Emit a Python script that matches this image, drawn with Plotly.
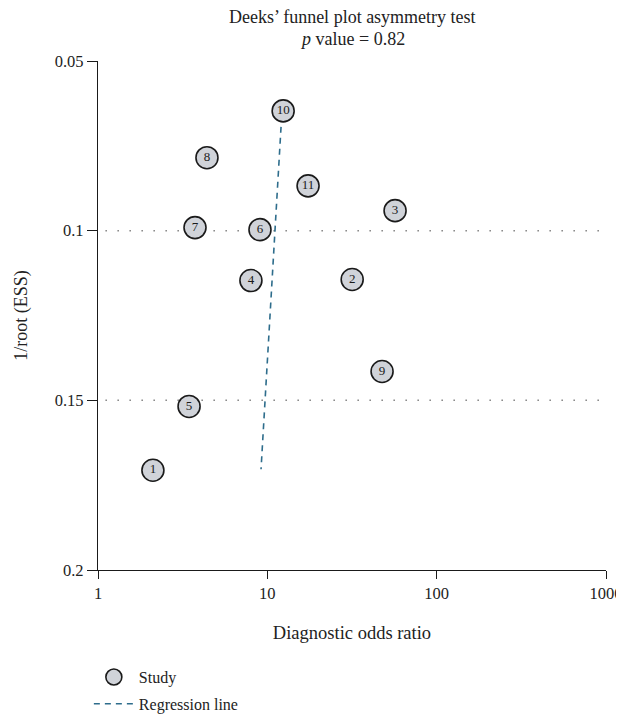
import plotly.graph_objects as go

study_ids = ["1", "2", "3", "4", "5", "6", "7", "8", "9", "10", "11"]
dor = [2.11, 31.7, 56.8, 8.0, 3.45, 9.05, 3.74, 4.40, 47.6, 12.4, 17.4]
inv_root_ess = [0.1706, 0.1144, 0.0941, 0.1147, 0.1518, 0.0997, 0.0991, 0.0785, 0.1415, 0.0647, 0.0868]
reg_x = [12.05, 9.18]
reg_y = [0.0694, 0.1703]
ref_lines_y = [0.1, 0.15]
x_ticks = [1, 10, 100, 1000]
y_ticks = [0.05, 0.1, 0.15, 0.2]
title_lines = ["Deeks’ funnel plot asymmetry test", "<i>p</i> value = 0.82"]

FONT = "Liberation Serif"
fig = go.Figure()

fig.add_trace(go.Scatter(
    x=dor, y=inv_root_ess, mode="markers+text", text=study_ids,
    textposition="middle center", textfont=dict(family=FONT, size=13, color="#1a1a1a"),
    marker=dict(size=22, color="#d0d3d9", line=dict(color="#1a1a1a", width=1.6)),
    name="Study", legendgroup="a", cliponaxis=False))

fig.add_trace(go.Scatter(
    x=reg_x, y=reg_y, mode="lines",
    line=dict(color="#2e6d8c", width=1.6, dash="6px,5px"),
    name="Regression line", legendgroup="b"))

for yv in ref_lines_y:
    fig.add_shape(type="line", xref="paper", yref="y", x0=0.015, x1=1, y0=yv, y1=yv,
                  line=dict(color="#444", width=1.5, dash="1px,11px"), layer="below")

for txt, ypos in zip(title_lines, [1.0864, 1.0432]):
    fig.add_annotation(text=txt, xref="paper", yref="paper", x=0.5, y=ypos,
                       xanchor="center", yanchor="middle", showarrow=False,
                       font=dict(family=FONT, size=18, color="#222"))

# page body has an 8px margin; figure sized/offset to compensate
fig.update_layout(
    width=616, height=710,
    margin=dict(l=90, r=18, t=53, b=148, autoexpand=False),
    paper_bgcolor="white", plot_bgcolor="white",
    font=dict(family=FONT, size=16, color="#222"),
    showlegend=True,
    legend=dict(x=-0.018, y=-0.177, xanchor="left", yanchor="top",
                font=dict(family=FONT, size=16, color="#222"),
                tracegroupgap=3, itemsizing="trace", itemwidth=40,
                bgcolor="rgba(0,0,0,0)"),
)

fig.update_xaxes(type="log", range=[0, 3], tickvals=x_ticks, ticktext=[str(v) for v in x_ticks],
                 showgrid=False, zeroline=False, showline=True, linecolor="#1a1a1a", linewidth=1.3,
                 ticks="outside", ticklen=8, tickwidth=1.3, tickcolor="#1a1a1a", automargin=False,
                 title=dict(text="Diagnostic odds ratio", standoff=24,
                            font=dict(family=FONT, size=18.5)),
                 tickfont=dict(family=FONT, size=16.5))
fig.update_yaxes(range=[0.2, 0.05], tickvals=y_ticks, ticktext=["0.05", "0.1", "0.15", "0.2"],
                 showgrid=False, zeroline=False, showline=True, linecolor="#1a1a1a", linewidth=1.3,
                 ticks="outside", ticklen=10, tickwidth=1.3, tickcolor="#1a1a1a", automargin=False,
                 title=dict(text="1/root (ESS)", standoff=22, font=dict(family=FONT, size=18)),
                 tickfont=dict(family=FONT, size=16.5))

fig.write_html("out.html")
